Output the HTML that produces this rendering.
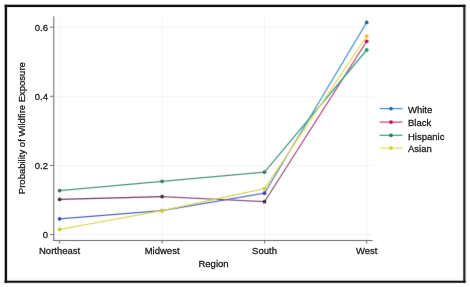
<!DOCTYPE html>
<html><head><meta charset="utf-8"><style>
html,body{margin:0;padding:0;background:#fff;}
svg{display:block;will-change:transform;}
text{font-family:"Liberation Sans",sans-serif;font-size:9.5px;fill:#1a1a1a;stroke:#1a1a1a;stroke-width:0.28px;}
</style></head><body>
<svg width="470" height="287" viewBox="0 0 470 287">
<defs><filter id="b" x="0" y="0" width="470" height="287" filterUnits="userSpaceOnUse" color-interpolation-filters="sRGB"><feConvolveMatrix order="3" kernelMatrix="0.00640 0.06720 0.00640 0.06720 0.70560 0.06720 0.00640 0.06720 0.00640" edgeMode="duplicate"/></filter></defs>
<g filter="url(#b)">
<rect x="0" y="0" width="470" height="287" fill="#fff"/>

<line x1="54.5" y1="234.60" x2="372.6" y2="234.60" stroke="#f3f3f3" stroke-width="1"/>
<line x1="54.5" y1="165.47" x2="372.6" y2="165.47" stroke="#f3f3f3" stroke-width="1"/>
<line x1="54.5" y1="96.33" x2="372.6" y2="96.33" stroke="#f3f3f3" stroke-width="1"/>
<line x1="54.5" y1="27.20" x2="372.6" y2="27.20" stroke="#f3f3f3" stroke-width="1"/>
<line x1="59.6" y1="16.3" x2="59.6" y2="240" stroke="#f3f3f3" stroke-width="1"/>
<line x1="162.1" y1="16.3" x2="162.1" y2="240" stroke="#f3f3f3" stroke-width="1"/>
<line x1="264.5" y1="16.3" x2="264.5" y2="240" stroke="#f3f3f3" stroke-width="1"/>
<line x1="366.7" y1="16.3" x2="366.7" y2="240" stroke="#f3f3f3" stroke-width="1"/>
<line x1="53.7" y1="16.3" x2="53.7" y2="241.1" stroke="#8a8a8a" stroke-width="1.3"/>
<line x1="53" y1="240.5" x2="372.6" y2="240.5" stroke="#6a6a6a" stroke-width="1.15"/>
<line x1="50" y1="234.60" x2="53.8" y2="234.60" stroke="#6e6e6e" stroke-width="1"/>
<line x1="50" y1="165.47" x2="53.8" y2="165.47" stroke="#6e6e6e" stroke-width="1"/>
<line x1="50" y1="96.33" x2="53.8" y2="96.33" stroke="#6e6e6e" stroke-width="1"/>
<line x1="50" y1="27.20" x2="53.8" y2="27.20" stroke="#6e6e6e" stroke-width="1"/>
<line x1="59.6" y1="240.5" x2="59.6" y2="243.5" stroke="#6e6e6e" stroke-width="1"/>
<line x1="162.1" y1="240.5" x2="162.1" y2="243.5" stroke="#6e6e6e" stroke-width="1"/>
<line x1="264.5" y1="240.5" x2="264.5" y2="243.5" stroke="#6e6e6e" stroke-width="1"/>
<line x1="366.7" y1="240.5" x2="366.7" y2="243.5" stroke="#6e6e6e" stroke-width="1"/>
<line x1="59.6" y1="218.8" x2="162.1" y2="210.6" stroke="#5068b8" stroke-width="1.2" stroke-linecap="round"/>
<line x1="162.1" y1="210.6" x2="264.5" y2="193.2" stroke="#6070c8" stroke-width="1.2" stroke-linecap="round"/>
<defs><linearGradient id="gWhite" gradientUnits="userSpaceOnUse" x1="264.5" y1="193.2" x2="366.7" y2="22.4"><stop offset="0" stop-color="#6a78b8"/><stop offset="0.45" stop-color="#4a98d0"/><stop offset="1" stop-color="#4a98d0"/></linearGradient></defs>
<line x1="264.5" y1="193.2" x2="366.7" y2="22.4" stroke="url(#gWhite)" stroke-width="1.2" stroke-linecap="round"/>
<circle cx="59.6" cy="218.8" r="1.9" fill="#3a48b4"/>
<circle cx="162.1" cy="210.6" r="1.9" fill="#3a48b4"/>
<circle cx="264.5" cy="193.2" r="1.9" fill="#3a40b4"/>
<circle cx="366.7" cy="22.4" r="1.9" fill="#1a6aa8"/>
<line x1="59.6" y1="199.4" x2="162.1" y2="196.6" stroke="#6e3e62" stroke-width="1.2" stroke-linecap="round"/>
<line x1="162.1" y1="196.6" x2="264.5" y2="201.7" stroke="#8a5a80" stroke-width="1.2" stroke-linecap="round"/>
<defs><linearGradient id="gBlack" gradientUnits="userSpaceOnUse" x1="264.5" y1="201.7" x2="366.7" y2="41.3"><stop offset="0" stop-color="#745a6c"/><stop offset="0.45" stop-color="#c03a78"/><stop offset="1" stop-color="#c03a78"/></linearGradient></defs>
<line x1="264.5" y1="201.7" x2="366.7" y2="41.3" stroke="url(#gBlack)" stroke-width="1.2" stroke-linecap="round"/>
<circle cx="59.6" cy="199.4" r="1.9" fill="#4e2a44"/>
<circle cx="162.1" cy="196.6" r="1.9" fill="#4e2a44"/>
<circle cx="264.5" cy="201.7" r="1.9" fill="#4e2a44"/>
<circle cx="366.7" cy="41.3" r="1.9" fill="#c01840"/>
<line x1="59.6" y1="190.6" x2="162.1" y2="181.3" stroke="#4a9484" stroke-width="1.2" stroke-linecap="round"/>
<line x1="162.1" y1="181.3" x2="264.5" y2="172.2" stroke="#4a9484" stroke-width="1.2" stroke-linecap="round"/>
<defs><linearGradient id="gHispanic" gradientUnits="userSpaceOnUse" x1="264.5" y1="172.2" x2="366.7" y2="50.0"><stop offset="0" stop-color="#4a9484"/><stop offset="0.45" stop-color="#2aa484"/><stop offset="1" stop-color="#2aa484"/></linearGradient></defs>
<line x1="264.5" y1="172.2" x2="366.7" y2="50.0" stroke="url(#gHispanic)" stroke-width="1.2" stroke-linecap="round"/>
<circle cx="59.6" cy="190.6" r="1.9" fill="#3a7264"/>
<circle cx="162.1" cy="181.3" r="1.9" fill="#3a7a6a"/>
<circle cx="264.5" cy="172.2" r="1.9" fill="#3a7a6a"/>
<circle cx="366.7" cy="50.0" r="1.9" fill="#18a070"/>
<line x1="59.6" y1="229.4" x2="162.1" y2="210.6" stroke="#d8da66" stroke-width="1.2" stroke-linecap="round"/>
<line x1="162.1" y1="210.6" x2="264.5" y2="188.7" stroke="#d2d660" stroke-width="1.2" stroke-linecap="round"/>
<defs><linearGradient id="gAsian" gradientUnits="userSpaceOnUse" x1="264.5" y1="188.7" x2="366.7" y2="36.2"><stop offset="0" stop-color="#d4d860"/><stop offset="0.45" stop-color="#ecd868"/><stop offset="1" stop-color="#ecd868"/></linearGradient></defs>
<line x1="264.5" y1="188.7" x2="366.7" y2="36.2" stroke="url(#gAsian)" stroke-width="1.2" stroke-linecap="round"/>
<circle cx="59.6" cy="229.4" r="1.9" fill="#c8d020"/>
<circle cx="162.1" cy="210.6" r="1.9" fill="#c8d030"/>
<circle cx="264.5" cy="188.7" r="1.9" fill="#c8d040"/>
<circle cx="366.7" cy="36.2" r="1.9" fill="#f0c040"/>
<line x1="379.7" y1="108.6" x2="402.4" y2="108.6" stroke="#3a90c8" stroke-width="1.2"/>
<circle cx="391" cy="108.6" r="1.9" fill="#2070b0"/>
<line x1="379.7" y1="122.1" x2="402.4" y2="122.1" stroke="#cf3a6c" stroke-width="1.2"/>
<circle cx="391" cy="122.1" r="1.9" fill="#c0104a"/>
<line x1="379.7" y1="135.3" x2="402.4" y2="135.3" stroke="#20a878" stroke-width="1.2"/>
<circle cx="391" cy="135.3" r="1.9" fill="#108060"/>
<line x1="379.7" y1="148.1" x2="402.4" y2="148.1" stroke="#e2e050" stroke-width="1.2"/>
<circle cx="391" cy="148.1" r="1.9" fill="#d0d020"/>
<g fill="none"><path d="M5.9 4.7V282.9" stroke="#000" stroke-width="2.3"/><path d="M4.6 5.85H465.5" stroke="#000" stroke-width="2.3"/><path d="M464.35 4.7V282.9" stroke="#1a1a1a" stroke-width="2.2"/><path d="M4.6 281.85H465.5" stroke="#000" stroke-width="2.0"/></g>
</g>
<g>
<text transform="translate(48.00 238.00) scale(1 1.0)" text-anchor="end">0</text>
<text transform="translate(48.00 168.87) scale(1 1.0)" text-anchor="end">0.2</text>
<text transform="translate(48.00 99.73) scale(1 1.0)" text-anchor="end">0.4</text>
<text transform="translate(48.00 30.60) scale(1 1.0)" text-anchor="end">0.6</text>
<text transform="translate(59.60 254.00) scale(1 1.0)" text-anchor="middle">Northeast</text>
<text transform="translate(162.10 254.00) scale(1 1.0)" text-anchor="middle">Midwest</text>
<text transform="translate(264.50 254.00) scale(1 1.0)" text-anchor="middle">South</text>
<text transform="translate(366.70 254.00) scale(1 1.0)" text-anchor="middle">West</text>
<text transform="translate(213.50 266.70) scale(1 1.0)" text-anchor="middle">Region</text>
<text transform="translate(25.30 128.15) rotate(-90) scale(1 1.0)" text-anchor="middle">Probability of Wildfire Exposure</text>
<text transform="translate(408.00 112.80) scale(1 1.0)">White</text>
<text transform="translate(408.00 126.30) scale(1 1.0)">Black</text>
<text transform="translate(408.00 139.50) scale(1 1.0)">Hispanic</text>
<text transform="translate(408.00 152.30) scale(1 1.0)">Asian</text>
</g></svg></body></html>
